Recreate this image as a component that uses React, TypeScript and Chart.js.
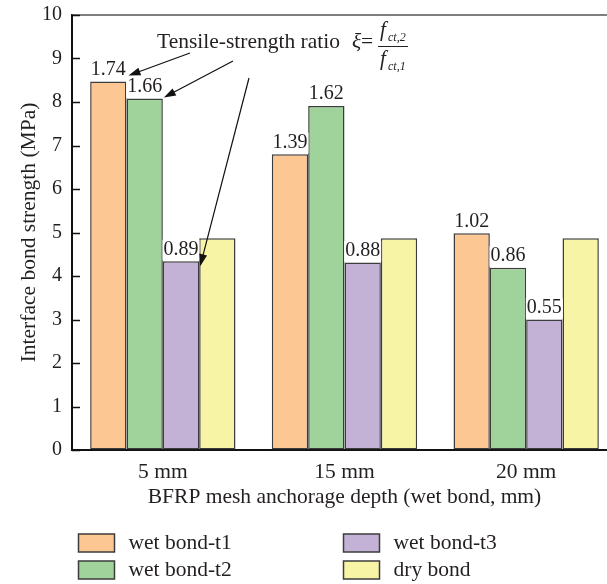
import React, { useEffect, useRef } from 'react';
import { Chart, registerables } from 'chart.js';
Chart.register(...registerables);

const categories = ['5 mm', '15 mm', '20 mm'];
const seriesNames = ['wet bond-t1', 'wet bond-t2', 'wet bond-t3', 'dry bond'];
const wetT1 = [8.47, 6.8, 4.98];
const wetT2 = [8.08, 7.91, 4.19];
const wetT3 = [4.34, 4.31, 3.0];
const dryBond = [4.87, 4.87, 4.87];
const ratioT1 = ['1.74', '1.39', '1.02'];
const ratioT2 = ['1.66', '1.62', '0.86'];
const ratioT3 = ['0.89', '0.88', '0.55'];
const ratioLabels = [ratioT1, ratioT2, ratioT3];
const colors = ['#FDC793', '#9FD39B', '#C3B2D6', '#F8F4A6'];
const yTitle = 'Interface bond strength (MPa)';
const xTitle = 'BFRP mesh anchorage depth (wet bond, mm)';
const noteText = 'Tensile-strength ratio';

const FONT = "'Liberation Serif', 'Times New Roman', serif";
const TEXT = '#231f20';
const EDGE = '#3c3c3c';
const TS = 21.5;

function arrow(ctx: CanvasRenderingContext2D, x1: number, y1: number, x2: number, y2: number) {
  ctx.save();
  ctx.strokeStyle = '#111';
  ctx.fillStyle = '#111';
  ctx.lineWidth = 1.2;
  const ang = Math.atan2(y2 - y1, x2 - x1);
  const hl = 12;
  ctx.beginPath();
  ctx.moveTo(x1, y1);
  ctx.lineTo(x2 - Math.cos(ang) * hl * 0.8, y2 - Math.sin(ang) * hl * 0.8);
  ctx.stroke();
  const hw = 4;
  const bx = x2 - Math.cos(ang) * hl;
  const by = y2 - Math.sin(ang) * hl;
  ctx.beginPath();
  ctx.moveTo(x2, y2);
  ctx.lineTo(bx + Math.sin(ang) * hw, by - Math.cos(ang) * hw);
  ctx.lineTo(bx - Math.sin(ang) * hw, by + Math.cos(ang) * hw);
  ctx.closePath();
  ctx.fill();
  ctx.restore();
}

const overlayPlugin = {
  id: 'overlay',
  afterDatasetsDraw(chart: any) {
    const ctx: CanvasRenderingContext2D = chart.ctx;
    const area = chart.chartArea;
    const yScale = chart.scales.y;
    ctx.save();
    // value labels
    ctx.font = `20px ${FONT}`;
    ctx.textAlign = 'center';
    ctx.textBaseline = 'alphabetic';
    ratioLabels.forEach((labels, di) => {
      const meta = chart.getDatasetMeta(di);
      meta.data.forEach((el: any, i: number) => {
        const t = labels[i];
        const w = ctx.measureText(t).width;
        const by = el.y - 6.5;
        ctx.fillStyle = '#fff';
        ctx.fillRect(el.x - w / 2 - 1, by - 15, w + 2, el.y - (by - 15) - 1);
        ctx.fillStyle = TEXT;
        ctx.fillText(t, el.x, by);
      });
    });
    // top frame line
    ctx.strokeStyle = '#555';
    ctx.lineWidth = 1.5;
    ctx.beginPath();
    ctx.moveTo(area.left, area.top);
    ctx.lineTo(chart.width, area.top);
    ctx.stroke();
    // inward ticks
    ctx.strokeStyle = '#111';
    ctx.lineWidth = 1.5;
    yScale.ticks.forEach((tk: any) => {
      const py = Math.round(yScale.getPixelForValue(tk.value)) + 0.5;
      ctx.beginPath();
      ctx.moveTo(area.left, py);
      ctx.lineTo(area.left + 8, py);
      ctx.stroke();
    });
    // annotation text
    const tx = area.left + 85;
    const ty = area.top + 33;
    ctx.fillStyle = TEXT;
    ctx.textAlign = 'left';
    ctx.font = `${TS}px ${FONT}`;
    ctx.fillText(noteText, tx, ty);
    ctx.font = `italic ${TS}px ${FONT}`;
    ctx.fillText('\u03BE', tx + 195, ty);
    ctx.font = `${TS}px ${FONT}`;
    ctx.fillText('=', tx + 204, ty);
    // fraction
    const fx = tx + 221;
    ctx.font = `italic 21px ${FONT}`;
    ctx.fillText('f', fx + 2, ty - 12);
    ctx.fillText('f', fx + 2, ty + 17);
    ctx.font = `italic 12px ${FONT}`;
    ctx.fillText('ct,2', fx + 10, ty - 7);
    ctx.fillText('ct,1', fx + 10, ty + 22);
    ctx.strokeStyle = '#222';
    ctx.lineWidth = 1;
    ctx.beginPath();
    ctx.moveTo(fx, ty - 1.5);
    ctx.lineTo(fx + 30, ty - 1.5);
    ctx.stroke();
    // arrows to bars of the 5 mm group
    const e1 = chart.getDatasetMeta(0).data[0];
    const e2 = chart.getDatasetMeta(1).data[0];
    const e3 = chart.getDatasetMeta(2).data[0];
    arrow(ctx, tx + 33, ty + 5, e1.x + e1.width / 2 + 2, e1.y - 6);
    arrow(ctx, tx + 76, ty + 13, e2.x + e2.width / 2 + 1, e2.y - 1);
    arrow(ctx, tx + 92, ty + 30, e3.x + e3.width / 2 + 1, e3.y + 5);
    // legend
    const rowsTop = [534, 561];
    const cols = [area.left + 6.5, area.left + 271.5];
    chart.data.datasets.forEach((ds: any, i: number) => {
      const col = Math.floor(i / 2);
      const row = i % 2;
      const bx = cols[col];
      const byt = rowsTop[row];
      ctx.fillStyle = ds.backgroundColor;
      ctx.fillRect(bx, byt, 36, 18);
      ctx.strokeStyle = EDGE;
      ctx.lineWidth = 1.5;
      ctx.strokeRect(bx, byt, 36, 18);
      ctx.fillStyle = TEXT;
      ctx.font = `${TS}px ${FONT}`;
      ctx.textAlign = 'left';
      ctx.textBaseline = 'middle';
      ctx.fillText(ds.label, bx + 50, byt + 9);
      ctx.textBaseline = 'alphabetic';
    });
    ctx.restore();
  },
};

export default function App() {
  const ref = useRef<HTMLCanvasElement>(null);
  useEffect(() => {
    document.body.style.margin = '0';
    const c = ref.current!;
    const seriesData = [wetT1, wetT2, wetT3, dryBond];
    const chart = new Chart(c, {
      type: 'bar',
      data: {
        labels: categories,
        datasets: seriesData.map((d, i) => ({
          label: seriesNames[i],
          data: d,
          backgroundColor: colors[i],
          borderColor: EDGE,
          borderWidth: 1.5,
          borderSkipped: false,
          barPercentage: 1,
          categoryPercentage: 0.8,
        })),
      },
      options: {
        animation: false,
        responsive: false,
        devicePixelRatio: 1,
        layout: { padding: { top: 14, left: 0, right: 3, bottom: 59 } },
        plugins: { legend: { display: false }, tooltip: { enabled: false } },
        scales: {
          x: {
            grid: { display: true, drawOnChartArea: false, drawTicks: false },
            border: { display: true, color: '#111', width: 2 },
            ticks: { padding: 9.5, color: TEXT, font: { family: FONT, size: TS } },
            title: { display: true, text: xTitle, color: TEXT, font: { family: FONT, size: TS }, padding: { top: 0, bottom: 15 } },
            afterFit: (s: any) => { s.height = 75; },
          },
          y: {
            min: 0,
            max: 10,
            grid: { display: true, drawOnChartArea: false, drawTicks: false },
            border: { display: true, color: '#111', width: 2 },
            ticks: { stepSize: 1, padding: 10, color: TEXT, font: { family: FONT, size: 20, lineHeight: 0.5 } },
            title: { display: true, text: yTitle, color: TEXT, font: { family: FONT, size: TS }, padding: { top: 16, bottom: 0 } },
            afterFit: (s: any) => { s.width = 72; },
          },
        },
      } as any,
      plugins: [overlayPlugin],
    });
    return () => chart.destroy();
  }, []);
  return (
    <div style={{ width: 607, height: 584, overflow: 'hidden', position: 'relative', background: '#fff' }}>
      <canvas ref={ref} width={620} height={584} style={{ display: 'block', width: 620, height: 584 }} />
    </div>
  );
}
